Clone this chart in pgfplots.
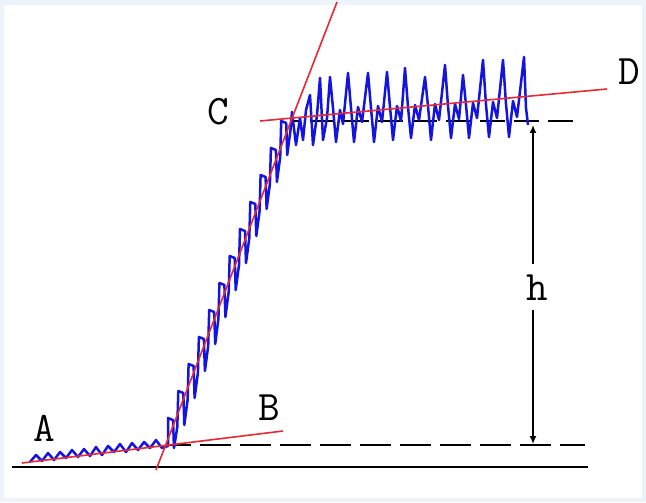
\documentclass[border=0pt]{standalone}
\usepackage{pgfplots}
\pgfplotsset{compat=1.18}
\usetikzlibrary{arrows.meta}
\definecolor{bluecurve}{RGB}{20,20,225}
\definecolor{redline}{RGB}{232,40,50}
\definecolor{framebg}{RGB}{236,243,250}
\begin{document}
\begin{tikzpicture}
\begin{axis}[scale only axis, width=323pt, height=251pt,
  xmin=0, xmax=646, ymin=0, ymax=502, y dir=reverse,
  hide axis, clip=false]
\fill[framebg] (axis cs:0,0) rectangle (axis cs:646,502);
\fill[white] (axis cs:4,5) rectangle (axis cs:642,498);
% baseline
\addplot[black, line width=1pt] coordinates {(12,467) (588,467)};
% dashed levels
\addplot[black, line width=1pt, dash pattern=on 15.5pt off 4.5pt, dash phase=4pt] coordinates {(168,445) (585,445)};
\addplot[black, line width=1pt, dash pattern=on 12.5pt off 4.5pt, dash phase=8.5pt] coordinates {(293,121) (573,121)};
% blue signal
\addplot[bluecurve, line width=1.25pt, line join=round] coordinates {
(30,462) (36,455) (42,461) (48,453) (54,460) (60,452) (66,458) (72,450) (78,457) (84,449)
(90,456) (96,447) (102,455) (108,446) (114,452) (120,444) (126,452) (132,443) (138,450) (144,442)
(150,448) (156,440) (162,448) (168,446)
(168,418) (173,420) (174,448)
(177.3,427) (178.3,391) (183.3,393) (184.3,425)
(187.6,400) (188.6,364) (193.6,366) (194.6,398)
(197.9,373) (198.9,337) (203.9,339) (204.9,371)
(208.2,346) (209.2,310) (214.2,312) (215.2,344)
(218.4,319) (219.4,283) (224.4,285) (225.4,317)
(228.7,292) (229.7,256) (234.7,258) (235.7,290)
(239,265) (240,229) (245,231) (246,263)
(249.3,238) (250.3,202) (255.3,204) (256.3,236)
(259.6,211) (260.6,175) (265.6,177) (266.6,209)
(269.9,184) (270.9,148) (275.9,150) (276.9,182)
(280.2,157) (281.2,121) (286.2,123) (287.2,155)
(290.5,130) (292,112)
(296,145) (300,118) (303,140) (306,110) (310,95) (313,145) (317,115) (320,78) (323,140) (327,118)
(330,77) (333,108) (336,142) (340,110) (343,124)
(348,73) (351,108) (354,142) (358,107) (362,122)
(368,73) (371,108) (374,142) (378,106) (382,122)
(387,72) (390,107) (393,140) (397,106) (401,121)
(405,68) (408,107) (411,138) (415,105) (419,120)
(425,77) (428,106) (431,140) (435,104) (439,120)
(445,65) (448,106) (451,138) (455,104) (459,119)
(463,75) (466,105) (469,138) (473,103) (477,118)
(483,60) (486,105) (489,137) (493,102) (497,118)
(503,60) (506,104) (509,137) (513,101) (517,117)
(524,57) (526,108) (528,125)
};
% red tangent lines
\addplot[redline, line width=0.8pt] coordinates {(22,463) (283,431)};
\addplot[redline, line width=0.8pt] coordinates {(156,470) (337,2)};
\addplot[redline, line width=0.8pt] coordinates {(260,121) (607,89)};
% height arrow
\addplot[black, line width=0.8pt, -{Latex[length=4pt,width=3.5pt]}] coordinates {(533,264) (533,125)};
\addplot[black, line width=0.8pt, -{Latex[length=4pt,width=3.5pt]}] coordinates {(533,310) (533,444)};
% labels
\begin{scope}[every node/.style={font=\ttfamily\fontsize{21}{21}\selectfont, inner sep=0pt}]
\node at (axis cs:44,428) {A};
\node at (axis cs:269,408) {B};
\node at (axis cs:218,112) {C};
\node at (axis cs:629,72) {D};
\node at (axis cs:537,288) {h};
\end{scope}
\end{axis}
\end{tikzpicture}
\end{document}
